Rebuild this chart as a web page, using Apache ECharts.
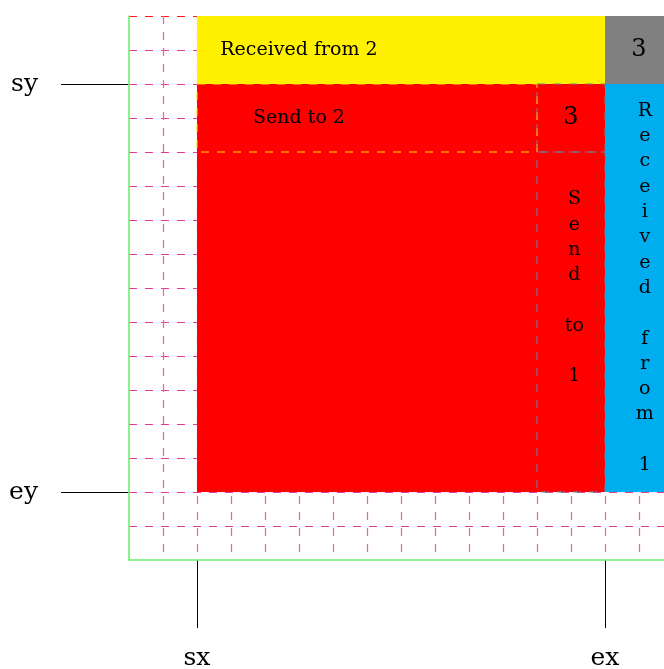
<!DOCTYPE html>
<html>
<head>
<meta charset="utf-8">
<script src="https://cdn.jsdelivr.net/npm/echarts@6/dist/echarts.min.js"></script>
<style>html,body{margin:0;padding:0;background:#fff}#c{width:664px;height:669px}</style>
</head>
<body>
<div id="c"></div>
<script>
// ---- data (grid cell units) ----
const gridMin = 0;
const gridMax = 16;
const gridStep = 1;

const xMarkValues = [2, 14];
const xMarkLabels = ['sx', 'ex'];
const yMarkValues = [2, 14];
const yMarkLabels = ['sy', 'ey'];

// filled blocks
const blockKind = ['yellow', 'gray', 'red', 'blue'];
const blockX0 = [2, 14, 2, 14];
const blockX1 = [14, 16, 14, 16];
const blockY0 = [0, 0, 2, 2];
const blockY1 = [2, 2, 14, 14];

// dashed outlined sub-blocks
const outlineKind = ['yellow', 'gray', 'blue'];
const outlineX0 = [2, 12, 12];
const outlineX1 = [12, 14, 14];
const outlineY0 = [2, 2, 4];
const outlineY1 = [4, 4, 14];

// texts
const textContent = ['Received from 2', '3', 'Send to 2', '3',
  'S\ne\nn\nd\n\nto\n\n1',
  'R\ne\nc\ne\ni\nv\ne\nd\n\nf\nr\no\nm\n\n1'];
const textX = [5, 15, 5, 13, 13.1, 15.17];
const textY = [1, 1, 3, 3, 8, 8];
const textKind = ['normal', 'big', 'normal', 'big', 'normal', 'normal'];

// ---- styles ----
const fillColor = { yellow: '#fff100', gray: '#808080', red: '#ff0000', blue: '#00aeef' };
const outlineColor = { yellow: '#ffe600', gray: '#7a7a7a', blue: '#5a88b4' };
const FONT = 'DejaVu Serif';

const blockData = blockKind.map((k, i) => [blockX0[i], blockY0[i], blockX1[i], blockY1[i], i]);
const outlineData = outlineKind.map((k, i) => [outlineX0[i], outlineY0[i], outlineX1[i], outlineY1[i], i]);
const textData = textContent.map((t, i) => [textX[i], textY[i], i]);

function rectShape(api) {
  const p0 = api.coord([api.value(0), api.value(1)]);
  const p1 = api.coord([api.value(2), api.value(3)]);
  return {
    x: Math.min(p0[0], p1[0]), y: Math.min(p0[1], p1[1]),
    width: Math.abs(p1[0] - p0[0]), height: Math.abs(p1[1] - p0[1])
  };
}

const hLineColors = [];
const vLineColors = [];
for (let v = gridMin; v <= gridMax; v += gridStep) {
  hLineColors.push(v === gridMin ? '#ff1a1a' : '#e8379a');
  vLineColors.push('#ee5fb4');
}

const GREEN = '#6cf06c';
const gridAxisBase = {
  type: 'value', min: gridMin, max: gridMax, interval: gridStep,
  axisLine: { show: true, onZero: false, lineStyle: { color: GREEN, width: 1.6 } },
  axisTick: { show: false },
  axisLabel: { show: false }
};
const markAxisBase = {
  type: 'value', min: gridMin, max: gridMax,
  axisLine: { show: false, onZero: false },
  splitLine: { show: false }
};

const chart = echarts.init(document.getElementById('c'), null, { renderer: 'canvas' });
chart.setOption({
  animation: false,
  backgroundColor: '#ffffff',
  grid: { left: 129, top: 16, width: 544, height: 544, containLabel: false, outerBoundsMode: 'none' },
  xAxis: [
    Object.assign({}, gridAxisBase, {
      position: 'bottom', z: 1,
      splitLine: { show: true, showMinLine: false, lineStyle: { color: vLineColors, width: 1.2, opacity: 1, type: [8, 8] } }
    }),
    Object.assign({}, markAxisBase, {
      position: 'bottom', offset: 0,
      axisTick: { show: true, customValues: xMarkValues, length: 68, lineStyle: { color: '#000', width: 1 } },
      axisLabel: {
        show: true, customValues: xMarkValues, margin: 86,
        formatter: v => xMarkLabels[xMarkValues.indexOf(v)] || '',
        fontFamily: FONT, fontSize: 25, color: '#000'
      }
    })
  ],
  yAxis: [
    Object.assign({}, gridAxisBase, {
      inverse: true, position: 'left', z: 1,
      splitLine: { show: true, showMaxLine: false, lineStyle: { color: hLineColors, width: 1, type: [8, 8] } }
    }),
    Object.assign({}, markAxisBase, {
      inverse: true, position: 'left', offset: 0,
      axisTick: { show: true, customValues: yMarkValues, length: 68, lineStyle: { color: '#000', width: 1 } },
      axisLabel: {
        show: true, customValues: yMarkValues, margin: 91,
        formatter: v => yMarkLabels[yMarkValues.indexOf(v)] || '',
        fontFamily: FONT, fontSize: 25, color: '#000', padding: [0, 0, 12, 0]
      }
    })
  ],
  series: [
    {
      type: 'custom', data: blockData, clip: false, z: 2,
      renderItem: (params, api) => ({
        type: 'rect', shape: rectShape(api),
        style: { fill: fillColor[blockKind[api.value(4)]] }
      })
    },
    {
      type: 'custom', data: outlineData, clip: false, z: 3,
      renderItem: (params, api) => ({
        type: 'rect', shape: rectShape(api),
        style: { fill: 'none', stroke: outlineColor[outlineKind[api.value(4)]], lineWidth: 1, lineDash: [8, 8] }
      })
    },
    {
      type: 'custom', data: textData, clip: false, z: 4,
      renderItem: (params, api) => {
        const i = api.value(2);
        const p = api.coord([api.value(0), api.value(1)]);
        const big = textKind[i] === 'big';
        return {
          type: 'text', x: p[0], y: p[1],
          style: {
            text: textContent[i], fill: '#000', fontFamily: FONT,
            fontSize: big ? 24 : 19, lineHeight: 25.3,
            align: 'center', verticalAlign: 'middle'
          }
        };
      }
    }
  ]
});
</script>
</body>
</html>
